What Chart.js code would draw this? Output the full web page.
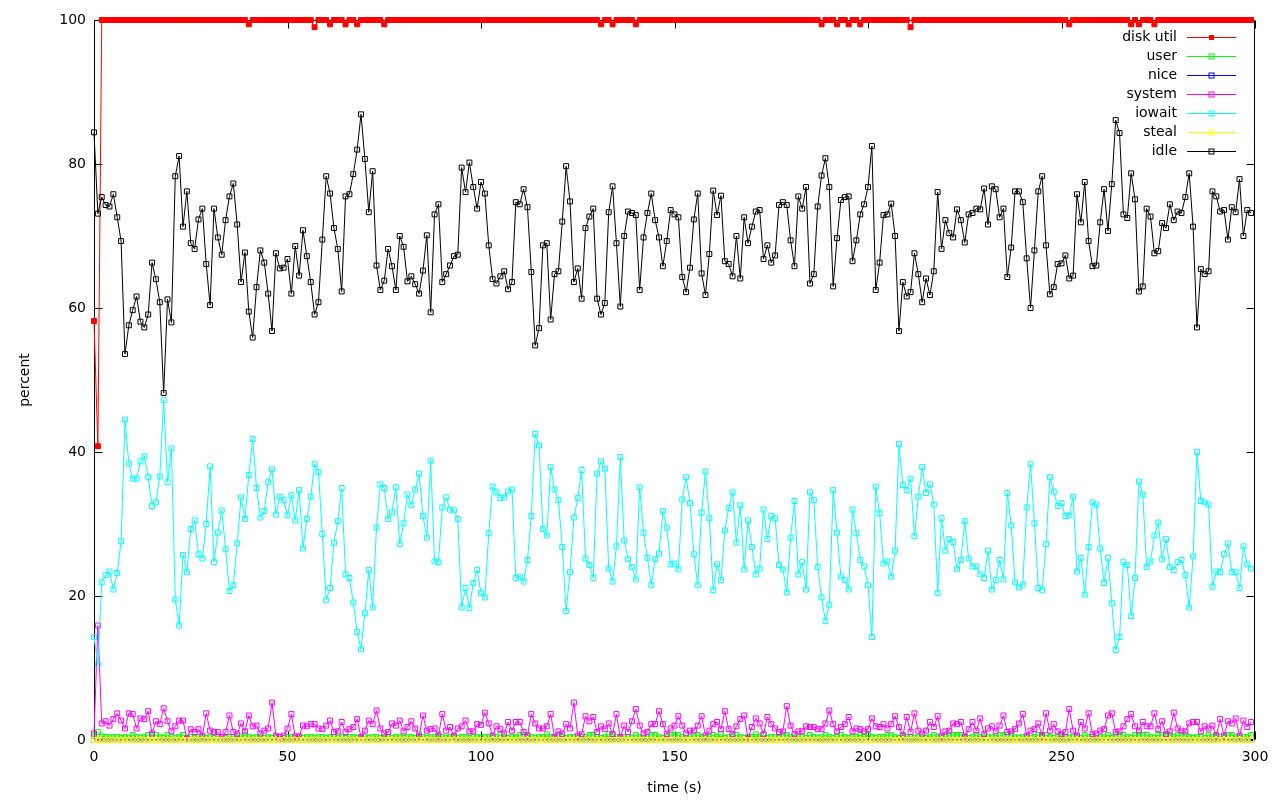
<!DOCTYPE html>
<html><head><meta charset="utf-8">
<script src="https://cdn.jsdelivr.net/npm/chart.js@4.4.1/dist/chart.umd.min.js"></script>
<style>html,body{margin:0;padding:0;background:#fff;}canvas{display:block;}</style>
</head><body><canvas id="c" width="1280" height="800"></canvas>
<script>
const times = [
0,1,2,3,4,5,6,7,8,9,10,11,12,13,14,15,16,17,18,19,20,21,22,23,24,25,26,27,28,29,
30,31,32,33,34,35,36,37,38,39,40,41,42,43,44,45,46,47,48,49,50,51,52,53,54,55,56,57,58,59,
60,61,62,63,64,65,66,67,68,69,70,71,72,73,74,75,76,77,78,79,80,81,82,83,84,85,86,87,88,89,
90,91,92,93,94,95,96,97,98,99,100,101,102,103,104,105,106,107,108,109,110,111,112,113,114,115,116,117,118,119,
120,121,122,123,124,125,126,127,128,129,130,131,132,133,134,135,136,137,138,139,140,141,142,143,144,145,146,147,148,149,
150,151,152,153,154,155,156,157,158,159,160,161,162,163,164,165,166,167,168,169,170,171,172,173,174,175,176,177,178,179,
180,181,182,183,184,185,186,187,188,189,190,191,192,193,194,195,196,197,198,199,200,201,202,203,204,205,206,207,208,209,
210,211,212,213,214,215,216,217,218,219,220,221,222,223,224,225,226,227,228,229,230,231,232,233,234,235,236,237,238,239,
240,241,242,243,244,245,246,247,248,249,250,251,252,253,254,255,256,257,258,259,260,261,262,263,264,265,266,267,268,269,
270,271,272,273,274,275,276,277,278,279,280,281,282,283,284,285,286,287,288,289,290,291,292,293,294,295,296,297,298,299];

const diskUtil = [
58.2,40.8,100,100,100,100,100,100,100,100,100,100,100,100,100,100,100,100,100,100,
100,100,100,100,100,100,100,100,100,100,100,100,100,100,100,100,100,100,100,100,
99.4,100,100,100,100,100,100,100,100,100,100,100,100,100,100,100,100,99.0,100,100,
100,99.4,100,100,100,99.4,100,100,99.4,100,100,100,100,100,100,99.4,100,100,100,100,
100,100,100,100,100,100,100,100,100,100,100,100,100,100,100,100,100,100,100,100,
100,100,100,100,100,100,100,100,100,100,100,100,100,100,100,100,100,100,100,100,
100,100,100,100,100,100,100,100,100,100,100,99.4,100,100,99.4,100,100,100,100,100,
99.4,100,100,100,100,100,100,100,100,100,100,100,100,100,100,100,100,100,100,100,
100,100,100,100,100,100,100,100,100,100,100,100,100,100,100,100,100,100,100,100,
100,100,100,100,100,100,100,100,99.4,100,100,100,99.4,100,100,99.4,100,100,99.4,100,
100,100,100,100,100,100,100,100,100,100,100,99.0,100,100,100,100,100,100,100,100,
100,100,100,100,100,100,100,100,100,100,100,100,100,100,100,100,100,100,100,100,
100,100,100,100,100,100,100,100,100,100,100,100,99.4,100,100,100,100,100,100,100,
100,100,100,100,100,100,100,100,99.4,100,99.4,100,100,100,99.4,100,100,100,100,100,
100,100,100,100,100,100,100,100,100,100,100,100,100,100,100,100,100,100,100,100];

const user = [
0.6,1.1,0.5,0.4,0.4,0.4,0.4,0.3,0.4,0.3,0.7,0.4,0.3,0.4,0.7,0.7,0.7,0.4,0.3,0.7,
0.4,0.3,0.4,0.7,0.3,0.4,0.3,0.4,0.4,0.3,0.4,0.3,0.4,0.4,0.3,0.4,0.4,0.3,0.4,0.7,
0.4,0.3,0.4,0.4,0.3,0.4,0.3,0.4,0.4,0.3,0.4,0.4,0.3,0.4,0.3,0.4,0.4,0.3,0.4,0.4,
0.3,0.4,0.4,0.3,0.4,0.3,0.4,0.4,0.3,0.4,0.4,0.3,0.4,0.4,0.3,0.4,0.4,0.3,0.4,0.4,
0.3,0.4,0.4,0.3,0.8,0.4,0.3,0.4,0.4,0.8,0.4,0.3,0.4,0.4,0.3,0.4,0.4,0.3,0.4,0.4,
0.3,0.4,0.4,0.3,0.4,0.7,0.4,0.3,0.4,0.4,0.7,0.7,0.7,0.4,0.3,0.4,0.4,0.8,0.4,0.3,
0.7,0.4,0.3,0.4,0.4,0.3,0.4,0.4,0.7,0.7,0.4,0.3,0.4,0.8,0.8,0.4,0.3,0.4,0.4,0.3,
0.7,0.4,0.3,0.4,0.7,0.7,0.4,0.3,0.4,0.7,0.7,0.7,0.4,0.3,0.4,0.7,0.7,0.4,0.3,0.4,
0.7,0.4,0.8,0.3,0.4,0.4,0.7,0.4,0.3,0.4,0.4,0.8,0.4,0.7,0.3,0.4,0.4,0.3,0.7,0.7,
0.4,0.3,0.4,0.4,0.3,0.7,0.4,0.3,0.4,0.7,0.4,0.3,0.4,0.7,0.4,0.3,0.4,0.4,0.7,0.4,
0.7,0.4,0.3,0.4,0.4,0.7,0.7,0.4,0.3,0.7,0.4,0.4,0.3,0.4,0.4,0.3,0.4,0.7,0.4,0.3,
0.4,0.7,0.7,0.7,0.7,0.4,0.3,0.4,0.7,0.4,0.3,0.4,0.4,0.3,0.7,0.7,0.7,0.7,0.4,0.3,
0.4,0.4,0.3,0.4,0.7,0.7,0.7,0.4,0.3,0.4,0.7,0.4,0.3,0.4,0.4,0.3,0.7,0.4,0.4,0.3,
0.4,0.4,0.7,0.3,0.7,0.7,0.7,0.4,0.3,0.7,0.7,0.7,0.7,0.4,0.3,0.7,0.7,0.7,0.7,0.4,
0.7,0.7,0.7,0.4,0.3,0.4,0.4,0.3,0.7,0.4,0.7,0.4,0.3,0.7,0.7,0.4,0.3,0.4,0.4,0.7];

const nice = [
0,0,0,0,0,0,0,0,0,0,0,0,0,0,0,0,0,0,0,0,0,0,0,0,0,0,0,0,0,0,
0,0,0,0,0,0,0,0,0,0,0,0,0,0,0,0,0,0,0,0,0,0,0,0,0,0,0,0,0,0,
0,0,0,0,0,0,0,0,0,0,0,0,0,0,0,0,0,0,0,0,0,0,0,0,0,0,0,0,0,0,
0,0,0,0,0,0,0,0,0,0,0,0,0,0,0,0,0,0,0,0,0,0,0,0,0,0,0,0,0,0,
0,0,0,0,0,0,0,0,0,0,0,0,0,0,0,0,0,0,0,0,0,0,0,0,0,0,0,0,0,0,
0,0,0,0,0,0,0,0,0,0,0,0,0,0,0,0,0,0,0,0,0,0,0,0,0,0,0,0,0,0,
0,0,0,0,0,0,0,0,0,0,0,0,0,0,0,0,0,0,0,0,0,0,0,0,0,0,0,0,0,0,
0,0,0,0,0,0,0,0,0,0,0,0,0,0,0,0,0,0,0,0,0,0,0,0,0,0,0,0,0,0,
0,0,0,0,0,0,0,0,0,0,0,0,0,0,0,0,0,0,0,0,0,0,0,0,0,0,0,0,0,0,
0,0,0,0,0,0,0,0,0,0,0,0,0,0,0,0,0,0,0,0,0,0,0,0,0,0,0,0,0,0];

const system = [
0.9,15.9,2.3,2.6,2.0,2.9,3.7,2.7,1.6,3.7,
3.6,1.6,3.0,2.9,4.0,0.9,2.6,2.2,4.4,2.6,
1.2,1.9,2.7,2.7,0.2,1.5,1.1,1.5,0.6,3.7,
1.3,1.1,1.1,0.4,1.1,3.4,1.1,0.8,2.3,1.2,
3.4,1.9,2.0,0.9,1.3,1.6,5.2,0.6,0.4,0.6,
1.6,3.6,0.5,0.5,2.0,1.9,2.2,2.2,1.6,1.5,
2.0,2.7,1.1,1.2,2.5,1.1,1.5,1.8,2.9,0.4,
1.3,2.7,2.2,4.1,1.6,0.9,1.1,2.3,2.0,2.7,
1.2,1.8,2.6,1.6,0.5,3.4,1.3,1.5,1.6,0.6,
3.6,1.3,1.8,0.6,1.6,1.9,2.7,1.2,1.2,2.2,
2.1,3.8,2.3,0.6,1.9,1.5,0.9,2.5,1.3,2.5,
2.5,1.1,0.6,3.6,2.3,1.6,1.6,1.9,3.6,0.4,
1.2,0.8,2.2,1.6,5.2,0.6,0.8,3.3,2.6,3.2,
1.1,1.9,1.5,2.3,0.8,3.6,0.4,2.0,1.1,2.6,
4.3,2.0,0.9,1.1,2.2,2.2,4.0,2.2,0.8,1.6,
2.0,3.3,2.0,0.9,1.3,1.3,2.0,3.3,0.6,1.3,
2.2,2.5,1.5,4.0,1.5,0.8,1.9,2.9,3.4,0.2,
1.8,3.0,2.3,0.8,3.2,2.2,1.6,1.1,1.2,4.7,
2.0,0.8,1.2,1.2,1.9,1.8,1.8,1.5,1.5,2.3,
4.1,2.2,1.2,1.8,2.2,3.2,1.2,1.6,1.5,1.2,
1.5,3.0,1.9,1.8,2.2,1.6,2.2,3.3,1.8,0.6,
3.2,1.1,3.7,1.3,0.9,1.3,2.5,1.8,3.3,0.6,
1.2,1.3,2.3,2.2,2.5,0.5,1.5,2.5,1.3,3.0,
0.8,1.6,1.9,1.2,2.0,3.4,1.1,1.2,1.5,2.3,
3.6,0.6,1.3,1.5,2.3,0.6,3.7,1.3,2.2,1.2,
0.8,1.1,4.3,1.3,0.6,2.5,1.6,3.7,0.8,0.9,
1.3,1.5,3.4,3.7,1.1,1.2,1.9,2.9,3.6,1.9,
1.3,2.5,1.9,1.9,3.7,1.5,2.6,0.8,1.2,3.8,
1.6,1.3,1.2,2.3,2.5,2.5,1.2,1.9,1.6,2.0,
0.6,2.9,0.6,2.6,2.3,3.0,0.6,2.7,1.8,2.5];

const iowait = [
14.3,10.5,21.9,22.9,23.4,20.9,23.2,27.6,44.5,38.4,
36.3,36.3,38.7,39.4,36.5,32.5,33.0,36.6,47.2,35.8,
40.5,19.5,15.9,25.7,23.3,29.3,30.5,25.8,25.2,30.0,
38.0,24.7,28.8,31.9,26.5,20.7,21.5,27.3,33.7,30.7,
36.8,41.8,35.0,30.9,31.8,35.8,37.6,31.3,33.8,33.3,
31.2,34.0,30.5,34.7,26.6,30.7,33.8,38.3,37.2,28.6,
19.4,21.1,27.4,30.4,35.0,23.0,22.5,19.1,15.0,12.6,
17.6,23.6,18.4,29.5,35.5,35.0,30.7,31.6,35.1,27.2,
30.1,34.1,32.6,34.8,37.0,31.1,28.1,38.8,24.8,24.7,
32.3,33.7,32.0,31.9,30.7,18.4,21.1,18.3,21.8,23.6,
20.4,19.8,28.7,35.2,34.4,33.6,33.7,34.5,34.8,22.5,
22.7,22.0,25.0,31.1,42.5,40.9,29.3,28.4,37.9,34.8,
33.3,26.8,17.9,23.3,30.9,33.6,37.5,25.2,24.3,22.5,
37.0,38.7,37.7,23.8,22.0,26.9,39.3,27.7,25.1,24.0,
22.3,35.1,28.8,25.3,21.5,25.1,25.9,31.8,29.5,24.4,
24.5,23.7,33.4,36.5,32.9,25.8,21.5,31.6,37.3,30.8,
20.8,24.4,22.2,29.1,32.2,34.4,27.4,32.6,23.7,30.5,
26.8,23.0,23.8,32.0,27.9,31.1,30.8,24.3,23.7,20.5,
28.1,33.2,23.0,24.7,20.9,34.4,33.3,24.0,19.8,16.5,
18.8,34.7,28.8,22.7,22.2,20.9,32.0,28.7,25.0,24.1,
21.5,14.3,35.2,31.5,24.5,24.8,22.7,26.3,41.1,35.4,
34.7,36.3,28.3,33.8,37.9,34.3,35.5,32.7,20.4,30.8,
26.3,27.9,27.5,23.7,25.0,30.4,25.2,24.1,24.1,23.0,
22.5,26.3,20.9,22.2,25.0,22.3,34.3,29.8,21.9,21.2,
21.6,32.3,38.3,30.1,21.1,20.8,27.2,36.5,34.5,32.5,
32.9,31.1,31.2,33.8,23.4,25.3,20.2,26.8,33.0,32.7,
26.6,21.8,25.3,19.0,12.5,14.3,24.7,24.3,17.2,22.5,
35.9,34.1,24.0,24.8,28.4,30.2,25.1,27.9,24.0,23.6,
24.7,25.0,22.9,18.4,25.5,40.0,33.2,33.0,32.7,21.3,
23.4,23.3,25.8,27.3,23.3,23.3,21.1,26.9,24.4,23.8];

const steal = [
0,0,0,0,0,0,0,0,0,0,0,0,0,0,0,0,0,0,0,0,0,0,0,0,0,0,0,0,0,0,
0,0,0,0,0,0,0,0,0,0,0,0,0,0,0,0,0,0,0,0,0,0,0,0,0,0,0,0,0,0,
0,0,0,0,0,0,0,0,0,0,0,0,0,0,0,0,0,0,0,0,0,0,0,0,0,0,0,0,0,0,
0,0,0,0,0,0,0,0,0,0,0,0,0,0,0,0,0,0,0,0,0,0,0,0,0,0,0,0,0,0,
0,0,0,0,0,0,0,0,0,0,0,0,0,0,0,0,0,0,0,0,0,0,0,0,0,0,0,0,0,0,
0,0,0,0,0,0,0,0,0,0,0,0,0,0,0,0,0,0,0,0,0,0,0,0,0,0,0,0,0,0,
0,0,0,0,0,0,0,0,0,0,0,0,0,0,0,0,0,0,0,0,0,0,0,0,0,0,0,0,0,0,
0,0,0,0,0,0,0,0,0,0,0,0,0,0,0,0,0,0,0,0,0,0,0,0,0,0,0,0,0,0,
0,0,0,0,0,0,0,0,0,0,0,0,0,0,0,0,0,0,0,0,0,0,0,0,0,0,0,0,0,0,
0,0,0,0,0,0,0,0,0,0,0,0,0,0,0,0,0,0,0,0,0,0,0,0,0,0,0,0,0,0];

const idle = [
84.4,73.1,75.4,74.3,74.1,75.8,72.6,69.3,53.6,57.6,
59.7,61.6,58.1,57.3,59.1,66.3,64.0,60.8,48.2,61.2,
58.0,78.3,81.1,71.3,76.2,69.0,68.2,72.3,73.8,66.1,
60.4,73.8,69.8,67.4,72.2,75.5,77.3,71.6,63.6,67.7,
59.5,55.9,62.9,68.0,66.3,62.0,56.8,67.6,65.5,65.6,
66.8,62.0,68.6,64.5,70.8,67.2,63.6,59.1,60.8,69.5,
78.3,75.9,71.1,68.2,62.3,75.5,75.8,78.6,82.0,86.9,
80.7,73.3,79.0,65.9,62.5,63.8,68.2,65.8,62.5,70.0,
68.5,63.7,64.4,63.3,62.0,65.2,70.1,59.4,73.0,74.4,
63.6,64.7,65.9,67.2,67.4,79.5,76.1,80.2,76.8,73.8,
77.5,75.9,68.7,64.0,63.4,64.4,65.1,62.6,63.6,74.7,
74.4,76.5,74.0,65.0,54.8,57.2,68.7,69.0,58.4,64.7,
65.1,72.0,79.7,74.8,63.6,65.5,61.3,71.1,72.7,73.8,
61.3,59.1,60.7,73.3,76.9,69.0,60.2,70.0,73.4,73.2,
72.9,62.5,69.8,73.2,75.9,72.2,69.8,65.8,69.3,73.6,
73.0,72.6,64.3,62.2,65.6,72.3,75.9,64.8,61.8,67.5,
76.3,72.9,75.6,66.5,66.1,64.4,70.0,64.1,72.6,69.0,
71.3,73.4,73.6,66.8,68.7,66.3,67.3,74.3,74.7,74.3,
69.4,65.8,75.5,73.8,76.8,63.4,64.7,74.1,78.4,80.8,
76.8,63.0,69.7,75.0,75.4,75.5,66.5,69.4,73.0,74.4,
76.8,82.5,62.5,66.3,72.9,73.0,74.5,70.0,56.8,63.6,
61.6,62.2,67.6,64.7,60.8,64.1,61.8,65.1,76.1,68.2,
72.2,70.4,69.8,73.7,72.2,69.1,73.0,73.2,73.8,73.7,
76.6,71.6,76.9,76.5,72.6,73.8,64.3,68.4,76.2,76.2,
74.7,66.9,60.0,68.0,76.2,78.3,68.7,61.9,62.9,66.1,
66.2,67.3,64.1,64.5,75.8,71.9,77.5,69.3,65.8,65.9,
71.9,76.5,70.7,77.2,86.1,84.3,73.0,72.5,78.7,75.1,
62.3,63.0,73.8,72.7,67.6,67.9,71.8,71.1,74.4,72.2,
73.4,73.2,75.4,78.7,71.3,57.3,65.4,64.7,65.1,76.2,
75.5,73.4,73.6,69.5,74.0,73.3,77.9,70.0,73.6,73.2];

const xTickValues = [0, 50, 100, 150, 200, 250, 300];
const yTickValues = [0, 20, 40, 60, 80, 100];
const seriesLabels = ['disk util', 'user', 'nice', 'system', 'iowait', 'steal', 'idle'];
const seriesValues = [diskUtil, user, nice, system, iowait, steal, idle];
const xTitle = 'time (s)';
const yTitle = 'percent';

// styles
const colors = ['#ff0000', '#00ff00', '#0000ff', '#ff00ff', '#00ffff', '#ffff00', '#000000'];
const FONT = '"DejaVu Sans", sans-serif';

const datasets = seriesValues.map((vals, i) => ({
  label: seriesLabels[i],
  data: vals.map((v, k) => ({x: times[k], y: v})),
  borderColor: colors[i],
  backgroundColor: colors[i],
  borderWidth: 1,
  pointStyle: 'rect',
  pointRadius: 3.5,
  pointBorderWidth: 1,
  pointBorderColor: colors[i],
  pointBackgroundColor: i === 0 ? colors[i] : 'rgba(0,0,0,0)',
  pointHoverRadius: 3.5,
  tension: 0,
  fill: false,
  clip: false,
  order: seriesLabels.length - 1 - i
}));

const framePlugin = {
  id: 'gnuFrame',
  beforeDatasetsDraw(chart) {
    const {ctx, chartArea: a, scales: {x, y}} = chart;
    ctx.save();
    ctx.strokeStyle = '#000';
    ctx.lineWidth = 1;
    const L = Math.round(a.left) + 0.5, R = Math.round(a.right) - 0.5;
    const T = Math.round(a.top) + 0.5, B = Math.round(a.bottom) - 0.5;
    ctx.beginPath();
    ctx.rect(L, T, R - L, B - T);
    ctx.stroke();
    const tl = 8;
    ctx.beginPath();
    xTickValues.forEach(v => {
      const px = Math.round(x.getPixelForValue(v)) + 0.5;
      ctx.moveTo(px, B); ctx.lineTo(px, B - tl);
      ctx.moveTo(px, T); ctx.lineTo(px, T + tl);
    });
    yTickValues.forEach(v => {
      const py = Math.round(y.getPixelForValue(v)) + 0.5;
      ctx.moveTo(L, py); ctx.lineTo(L + tl, py);
      ctx.moveTo(R, py); ctx.lineTo(R - tl, py);
    });
    ctx.stroke();
    ctx.restore();
  }
};

const keyPlugin = {
  id: 'gnuKey',
  afterDraw(chart) {
    const {ctx} = chart;
    ctx.save();
    ctx.font = '14px ' + FONT;
    ctx.textAlign = 'right';
    ctx.textBaseline = 'middle';
    chart.data.datasets.forEach((ds, i) => {
      const yy = 37.5 + 19 * i;
      ctx.fillStyle = '#000';
      ctx.fillText(ds.label, 1177, yy);
      ctx.strokeStyle = ds.borderColor;
      ctx.lineWidth = 1;
      ctx.beginPath();
      ctx.moveTo(1187, yy); ctx.lineTo(1236, yy);
      ctx.stroke();
      const s = 2.5;
      if (i === 0) {
        ctx.fillStyle = ds.borderColor;
        ctx.fillRect(1211.5 - s, yy - s, 2 * s, 2 * s);
      } else {
        ctx.strokeRect(1211.5 - s, yy - s, 2 * s, 2 * s);
      }
    });
    ctx.restore();
  }
};

new Chart(document.getElementById('c'), {
  type: 'line',
  data: {datasets},
  options: {
    responsive: false,
    animation: false,
    devicePixelRatio: 1,
    layout: {padding: {top: 20, right: 25, left: 0, bottom: 0}},
    plugins: {legend: {display: false}, tooltip: {enabled: false}},
    events: [],
    scales: {
      x: {
        type: 'linear', min: 0, max: 300,
        afterBuildTicks: s => { s.ticks = xTickValues.map(v => ({value: v})); },
        afterFit: s => { s.height = 60; },
        grid: {display: false, drawTicks: false},
        border: {display: false},
        ticks: {color: '#000', font: {family: FONT, size: 14}, padding: 9, maxRotation: 0, autoSkip: false},
        title: {display: true, text: xTitle, color: '#000', font: {family: FONT, size: 14}, padding: {top: 0, bottom: 3}}
      },
      y: {
        type: 'linear', min: 0, max: 100,
        afterBuildTicks: s => { s.ticks = yTickValues.map(v => ({value: v})); },
        afterFit: s => { s.width = 94; },
        grid: {display: false, drawTicks: false},
        border: {display: false},
        ticks: {color: '#000', font: {family: FONT, size: 14}, padding: 8},
        title: {display: true, text: yTitle, color: '#000', font: {family: FONT, size: 14}, padding: {top: 17, bottom: 0}}
      }
    }
  },
  plugins: [framePlugin, keyPlugin]
});
</script>
</body></html>
